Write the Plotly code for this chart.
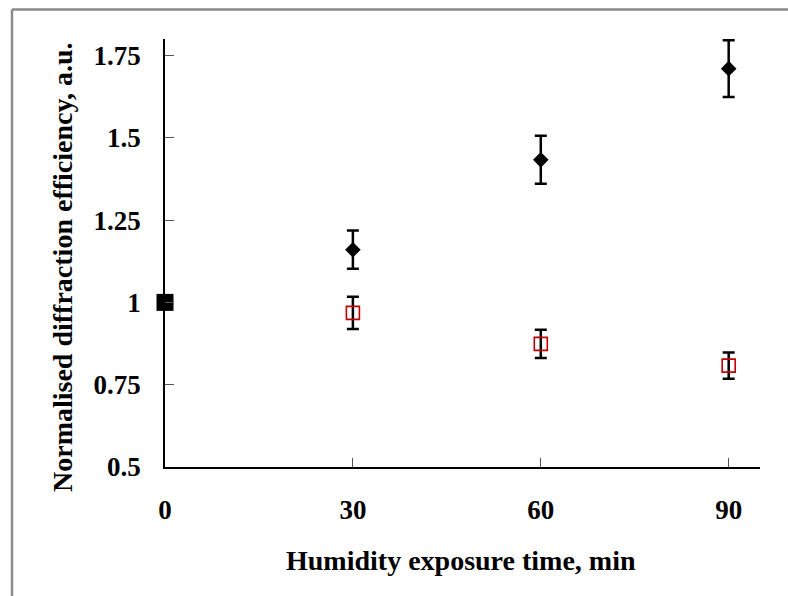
import plotly.graph_objects as go

# Data
time_pts = [30, 60, 90]
series_diamond = [1.160, 1.433, 1.710]
series_diamond_err = [0.058, 0.073, 0.086]
series_square = [0.968, 0.874, 0.808]
series_square_err = [0.049, 0.043, 0.040]
base_x = [0]
base_y = [1.0]
x_ticks = [0, 30, 60, 90]
y_ticks = [0.5, 0.75, 1.0, 1.25, 1.5, 1.75]
y_tick_labels = ["0.5", "0.75", "1", "1.25", "1.5", "1.75"]

FONT = "Liberation Serif"

fig = go.Figure()

fig.add_trace(go.Scatter(
    x=time_pts, y=series_diamond, mode="markers",
    marker=dict(symbol="diamond", size=12, color="black"),
    error_y=dict(type="data", array=series_diamond_err, visible=True,
                 color="black", thickness=2.5, width=6),
    cliponaxis=False, showlegend=False))

fig.add_trace(go.Scatter(
    x=time_pts, y=series_square, mode="markers",
    marker=dict(symbol="square-open", size=13, color="#c00000",
                line=dict(width=1.6, color="#c00000")),
    error_y=dict(type="data", array=series_square_err, visible=True,
                 color="black", thickness=2.5, width=6),
    cliponaxis=False, showlegend=False))

fig.add_trace(go.Scatter(
    x=base_x, y=base_y, mode="markers",
    marker=dict(symbol="square", size=17, color="black"),
    cliponaxis=False, showlegend=False))

fig.update_layout(
    width=788, height=596,
    margin=dict(l=165, r=28, t=39, b=129),
    paper_bgcolor="white", plot_bgcolor="white",
    font=dict(family=FONT, size=27, color="black"),
    xaxis=dict(range=[0, 95], tickmode="array", tickvals=x_ticks,
               ticks="inside", ticklen=9, tickwidth=1, tickcolor="#555",
               showline=True, linecolor="black", linewidth=1.5,
               showgrid=False, zeroline=False,
               tickfont=dict(family=FONT, size=27, color="black", weight="bold"),
               ticklabelstandoff=18),
    yaxis=dict(range=[0.5, 1.8], tickmode="array", tickvals=y_ticks,
               ticktext=y_tick_labels,
               ticks="inside", ticklen=9, tickwidth=1, tickcolor="#555",
               showline=True, linecolor="black", linewidth=1.5,
               showgrid=False, zeroline=False,
               tickfont=dict(family=FONT, size=27, color="black", weight="bold"),
               ticklabelstandoff=17),
    annotations=[
        dict(text="<b>Humidity exposure time, min</b>", xref="paper", yref="paper",
             x=(461 - 165) / 595, y=(467 - 560) / 428, showarrow=False,
             xanchor="center", yanchor="middle",
             font=dict(family=FONT, size=28, color="black")),
        dict(text="<b>Normalised diffraction efficiency, a.u.</b>", xref="paper", yref="paper",
             x=(62 - 165) / 595, y=(467 - 268) / 428, showarrow=False,
             textangle=-90, xanchor="center", yanchor="middle",
             font=dict(family=FONT, size=28, color="black")),
    ],
    shapes=[
        dict(type="line", xref="paper", yref="paper",
             x0=(12 - 165) / 595, x1=(800 - 165) / 595,
             y0=(467 - 9.5) / 428, y1=(467 - 9.5) / 428,
             line=dict(color="#8a8a8a", width=2.5)),
        dict(type="line", xref="paper", yref="paper",
             x0=(12 - 165) / 595, x1=(12 - 165) / 595,
             y0=(467 - 9.5) / 428, y1=(467 - 610) / 428,
             line=dict(color="#8a8a8a", width=2.5)),
    ],
)

fig.write_html("out.html")
